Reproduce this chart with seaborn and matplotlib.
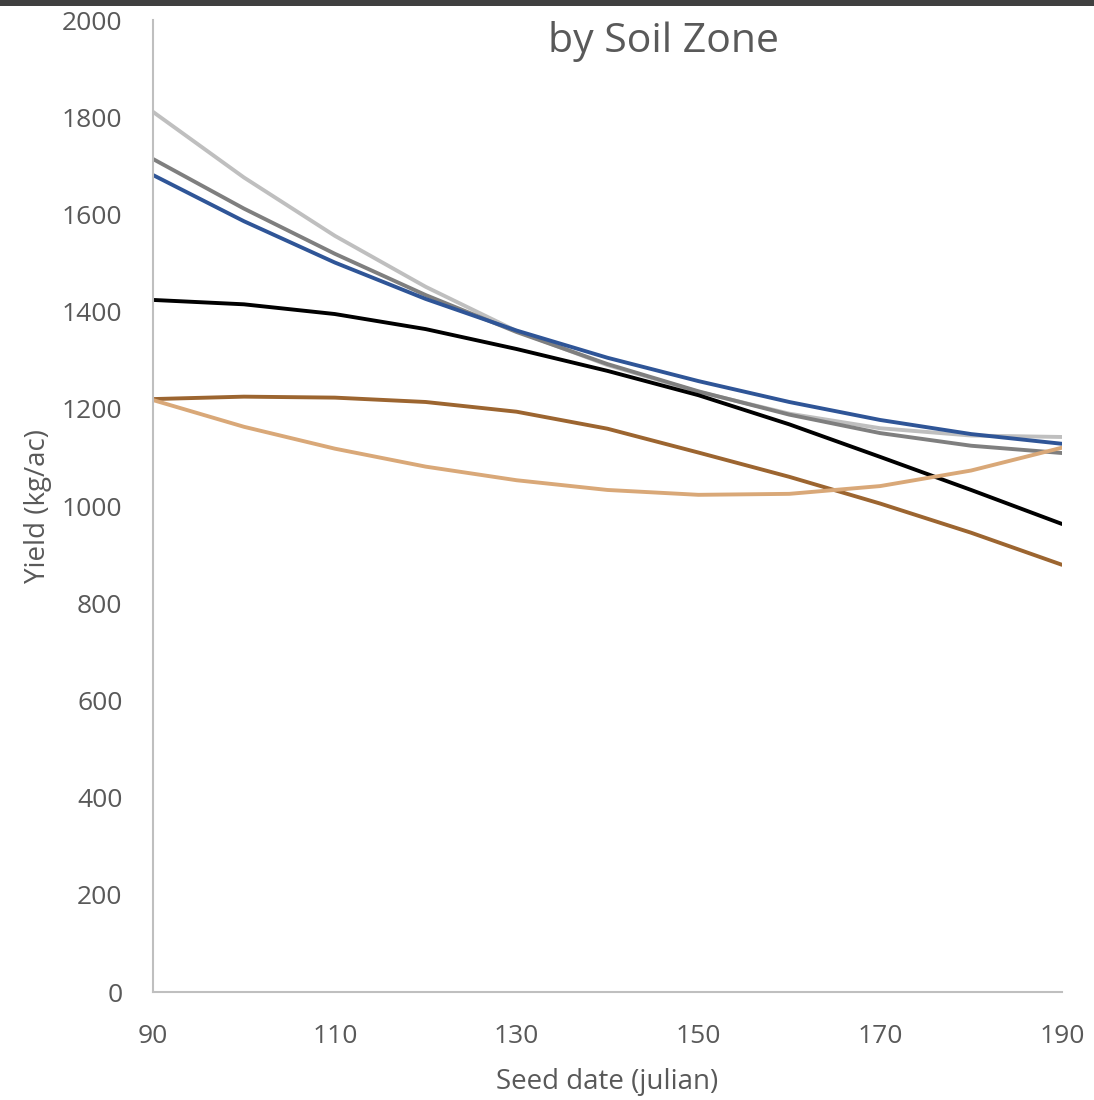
import pandas as pd
import matplotlib.pyplot as plt
import seaborn as sns
from matplotlib.patches import Rectangle

sns.set_style("white")
plt.rcParams['font.family'] = ['Open Sans', 'DejaVu Sans']

# Seed date (julian day) and yield curves
seed_day = [90, 100, 110, 120, 130, 140, 150, 160, 170, 180, 190]
light_gray = [1811, 1676, 1556, 1451, 1360, 1290, 1235, 1190, 1160, 1145, 1142]
dark_gray = [1714, 1612, 1519, 1434, 1358, 1292, 1236, 1188, 1150, 1124, 1109]
blue = [1681, 1586, 1501, 1426, 1361, 1305, 1257, 1214, 1177, 1148, 1128]
black = [1424, 1415, 1395, 1364, 1323, 1278, 1228, 1168, 1101, 1033, 963]
brown = [1220, 1225, 1223, 1214, 1194, 1159, 1110, 1060, 1005, 945, 879]
tan = [1218, 1163, 1118, 1081, 1053, 1033, 1023, 1025, 1041, 1073, 1120]

series = {
    'light_gray': (light_gray, '#BFBFBF'),
    'dark_gray': (dark_gray, '#7F7F7F'),
    'blue': (blue, '#2F5597'),
    'black': (black, '#000000'),
    'brown': (brown, '#9C6530'),
    'tan': (tan, '#D9A878'),
}

df = pd.concat(
    [pd.DataFrame({'day': seed_day, 'yield': vals, 'zone': name})
     for name, (vals, _) in series.items()],
    ignore_index=True)
palette = {name: col for name, (_, col) in series.items()}

fig = plt.figure(figsize=(10.94, 11), dpi=100)
ax = fig.add_axes([153 / 1094, 1 - 992 / 1100, (1062 - 153) / 1094, (992 - 20) / 1100])

sns.lineplot(data=df, x='day', y='yield', hue='zone', palette=palette,
             linewidth=2.8, legend=False, ax=ax)

ax.set_xlim(90, 190)
ax.set_ylim(0, 2000)
ax.set_xticks(range(90, 191, 20))
ax.set_yticks(range(0, 2001, 200))
ax.tick_params(axis='both', length=0, labelsize=19, labelcolor='#595959')
ax.tick_params(axis='x', pad=23)
ax.tick_params(axis='y', pad=22)
ax.set_xlabel('Seed date (julian)', fontsize=20, color='#595959', labelpad=14)
ax.set_ylabel('Yield (kg/ac)', fontsize=20, color='#595959', labelpad=7)

for side in ['top', 'right']:
    ax.spines[side].set_visible(False)
for side in ['left', 'bottom']:
    ax.spines[side].set_color('#BFBFBF')
    ax.spines[side].set_linewidth(1.5)

fig.text(663 / 1094, 1 - 41 / 1100, 'by Soil Zone', ha='center', va='center',
         fontsize=29.5, color='#595959')
fig.patches.append(Rectangle((0, 1 - 6 / 1100), 1, 6 / 1100, transform=fig.transFigure,
                             facecolor='#404040', edgecolor='none'))

fig.savefig('out.png', dpi=100)
